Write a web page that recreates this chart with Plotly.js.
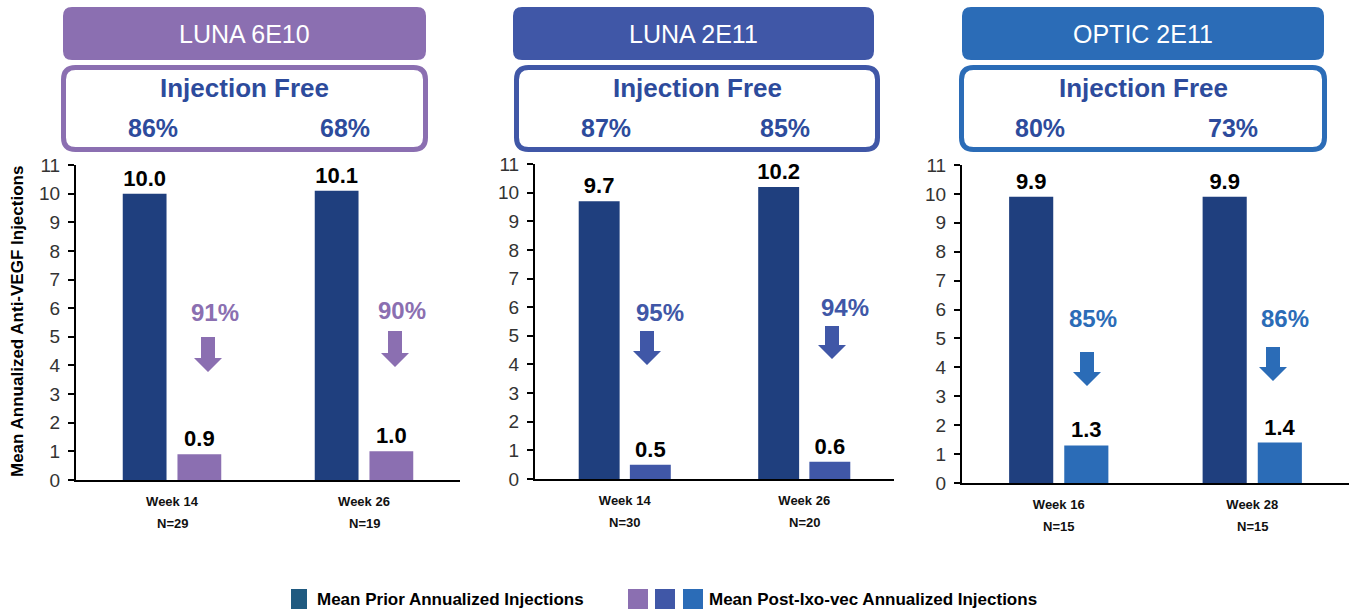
<!DOCTYPE html>
<html>
<head>
<meta charset="utf-8">
<script src="https://cdn.plot.ly/plotly-3.0.1.min.js"></script>
<style>html,body{margin:0;padding:0;background:#fff;}#chart{width:1352px;height:611px;}</style>
</head>
<body>
<div id="chart"></div>
<script>
// ---------------- DATA ----------------
const panelTitles = ['LUNA 6E10', 'LUNA 2E11', 'OPTIC 2E11'];
const weeks1 = ['Week 14', 'Week 26'];
const weeks2 = ['Week 14', 'Week 26'];
const weeks3 = ['Week 16', 'Week 28'];
const prior1 = [10.0, 10.1];
const post1 = [0.9, 1.0];
const prior2 = [9.7, 10.2];
const post2 = [0.5, 0.6];
const prior3 = [9.9, 9.9];
const post3 = [1.3, 1.4];
const nLabels1 = ['N=29', 'N=19'];
const nLabels2 = ['N=30', 'N=20'];
const nLabels3 = ['N=15', 'N=15'];
const injFree1 = ['86%', '68%'];
const injFree2 = ['87%', '85%'];
const injFree3 = ['80%', '73%'];
const reduction1 = ['91%', '90%'];
const reduction2 = ['95%', '94%'];
const reduction3 = ['85%', '86%'];
const yTickVals = [0,1,2,3,4,5,6,7,8,9,10,11];
const yAxisTitle = 'Mean Annualized Anti-VEGF Injections';
const legendPrior = 'Mean Prior Annualized Injections';
const legendPost = 'Mean Post-Ixo-vec Annualized Injections';

// ---------------- STYLE / LAYOUT CONFIG ----------------
const W = 1352, H = 611;
const FONT = 'Liberation Sans, Arial, sans-serif';
const priorColor = '#1f3f7e';
const postColors = ['#8b6fb1', '#4057a7', '#2b6cb7'];
const legendPriorColor = '#1f5a80';
const injFreeColor = '#2d4b9c';

const weeks = [weeks1, weeks2, weeks3];
const priors = [prior1, prior2, prior3];
const posts = [post1, post2, post3];
const nLabels = [nLabels1, nLabels2, nLabels3];
const injFree = [injFree1, injFree2, injFree3];
const reductions = [reduction1, reduction2, reduction3];

// panel geometry in pixels
const panels = [
  {x0: 76, x1: 460, yb: 480, yt: 165, hdr: [63, 426], box: [63.5, 425.5], arrows: [[208,337,372],[395,331,367]], redTxt: [[215,312],[402,310]]},
  {x0: 535, x1: 894, yb: 479, yt: 164, hdr: [513, 874], box: [516.5, 877.5], arrows: [[647,331,365],[832,326,359]], redTxt: [[660,312],[845,307]]},
  {x0: 962, x1: 1349, yb: 483, yt: 165, hdr: [962, 1324], box: [961.5, 1324.5], arrows: [[1087,352,386],[1273,347,381]], redTxt: [[1093,318],[1285,318]]}
];

const px = x => x / W;
const py = y => 1 - y / H;
const P = (x, y) => x + ',' + (-y);

function roundRect(x0, y0, x1, y1, r) {
  return 'M' + P(x0 + r, y0) + ' L' + P(x1 - r, y0) + ' Q' + P(x1, y0) + ' ' + P(x1, y0 + r) +
    ' L' + P(x1, y1 - r) + ' Q' + P(x1, y1) + ' ' + P(x1 - r, y1) +
    ' L' + P(x0 + r, y1) + ' Q' + P(x0, y1) + ' ' + P(x0, y1 - r) +
    ' L' + P(x0, y0 + r) + ' Q' + P(x0, y0) + ' ' + P(x0 + r, y0) + ' Z';
}
function arrowPath(cx, top, tip) {
  const sw = 7, hw = 14, hh = 14;
  return 'M' + P(cx - sw, top) + ' L' + P(cx + sw, top) + ' L' + P(cx + sw, tip - hh) +
    ' L' + P(cx + hw, tip - hh) + ' L' + P(cx, tip) + ' L' + P(cx - hw, tip - hh) +
    ' L' + P(cx - sw, tip - hh) + ' Z';
}
function pxShape(path, fill, lineColor, lineWidth) {
  return {type: 'path', xref: 'paper', yref: 'paper', xsizemode: 'pixel', ysizemode: 'pixel',
    xanchor: 0, yanchor: 1, path: path, fillcolor: fill,
    line: {color: lineColor || 'rgba(0,0,0,0)', width: lineWidth || 0}, layer: 'above'};
}

const traces = [];
const layout = {
  width: W, height: H,
  margin: {l: 0, r: 0, t: 0, b: 0, pad: 0},
  paper_bgcolor: '#ffffff', plot_bgcolor: 'rgba(0,0,0,0)',
  barmode: 'group', bargap: 0.43, bargroupgap: 0.2,
  showlegend: false,
  font: {family: FONT, color: '#000'},
  shapes: [], annotations: []
};

panels.forEach((p, i) => {
  const ax = i === 0 ? '' : String(i + 1);
  const xa = 'x' + ax, ya = 'y' + ax;
  traces.push({
    type: 'bar', x: weeks[i], y: priors[i], xaxis: xa, yaxis: ya,
    marker: {color: priorColor}, texttemplate: '%{y:.1f}', textposition: 'outside',
    textfont: {family: FONT, size: 22, color: '#000', weight: 'bold'},
    constraintext: 'none', cliponaxis: false, hoverinfo: 'skip', offsetgroup: 'a'
  });
  traces.push({
    type: 'bar', x: weeks[i], y: posts[i], xaxis: xa, yaxis: ya,
    marker: {color: postColors[i]}, texttemplate: '%{y:.1f}', textposition: 'outside',
    textfont: {family: FONT, size: 22, color: '#000', weight: 'bold'},
    constraintext: 'none', cliponaxis: false, hoverinfo: 'skip', offsetgroup: 'b'
  });
  layout['xaxis' + ax] = {
    domain: [px(p.x0), px(p.x1)], anchor: ya, type: 'category', range: [-0.5, 1.5],
    showline: true, linecolor: '#000', linewidth: 2, ticks: '', showgrid: false, zeroline: false,
    tickfont: {family: FONT, size: 13, color: '#111', weight: 'bold'}, ticklabelstandoff: 8,
    fixedrange: true
  };
  layout['yaxis' + ax] = {
    domain: [py(p.yb), py(p.yt)], anchor: xa, range: [0, 11], tickvals: yTickVals,
    showline: true, linecolor: '#000', linewidth: 2, ticks: 'outside', ticklen: 6, tickwidth: 2,
    tickcolor: '#000', showgrid: false, zeroline: false,
    tickfont: {family: FONT, size: 19, color: '#333'}, ticklabelstandoff: 4, fixedrange: true
  };
  // header boxes
  layout.shapes.push(pxShape(roundRect(p.hdr[0], 7, p.hdr[1], 60, 9), postColors[i]));
  layout.shapes.push(pxShape(roundRect(p.box[0], 67.5, p.box[1], 149.5, 12), 'rgba(0,0,0,0)', postColors[i], 5));
  layout.annotations.push({xref: 'paper', yref: 'paper', x: px((p.hdr[0] + p.hdr[1]) / 2), y: py(34),
    text: panelTitles[i], showarrow: false, xanchor: 'center', yanchor: 'middle',
    font: {family: FONT, size: 25, color: '#ffffff'}});
  layout.annotations.push({xref: 'paper', yref: 'paper', x: px((p.box[0] + p.box[1]) / 2), y: py(88),
    text: 'Injection Free', showarrow: false, xanchor: 'center', yanchor: 'middle',
    font: {family: FONT, size: 26, color: injFreeColor, weight: 'bold'}});
  weeks[i].forEach((w, j) => {
    layout.annotations.push({xref: xa, yref: 'paper', x: w, y: py(128), xshift: -19,
      text: injFree[i][j], showarrow: false, xanchor: 'center', yanchor: 'middle',
      font: {family: FONT, size: 25, color: injFreeColor, weight: 'bold'}});
    layout.annotations.push({xref: xa, yref: 'paper', x: w, y: py(p.yb + 43),
      text: nLabels[i][j], showarrow: false, xanchor: 'center', yanchor: 'middle',
      font: {family: FONT, size: 13, color: '#111', weight: 'bold'}});
    const a = p.arrows[j];
    layout.shapes.push(pxShape(arrowPath(a[0], a[1], a[2]), postColors[i]));
    const t = p.redTxt[j];
    layout.annotations.push({xref: 'paper', yref: 'paper', x: px(t[0]), y: py(t[1]),
      text: reductions[i][j], showarrow: false, xanchor: 'center', yanchor: 'middle',
      font: {family: FONT, size: 24, color: postColors[i], weight: 'bold'}});
  });
});

// y-axis title
layout.annotations.push({xref: 'paper', yref: 'paper', x: px(17), y: py(322), textangle: -90,
  text: yAxisTitle, showarrow: false, xanchor: 'center', yanchor: 'middle',
  font: {family: FONT, size: 17, color: '#000', weight: 'bold'}});

// legend
layout.shapes.push(pxShape(roundRect(291, 589, 307, 609, 0.1), legendPriorColor));
[628, 655, 683].forEach((x, k) => {
  layout.shapes.push(pxShape(roundRect(x, 589, x + 20, 609, 0.1), postColors[k]));
});
layout.annotations.push({xref: 'paper', yref: 'paper', x: px(315), y: py(599),
  text: legendPrior, showarrow: false, xanchor: 'left', yanchor: 'middle',
  font: {family: FONT, size: 17, color: '#000', weight: 'bold'}});
layout.annotations.push({xref: 'paper', yref: 'paper', x: px(707), y: py(599),
  text: legendPost, showarrow: false, xanchor: 'left', yanchor: 'middle',
  font: {family: FONT, size: 17, color: '#000', weight: 'bold'}});

Plotly.newPlot('chart', traces, layout, {staticPlot: true, displayModeBar: false});
</script>
</body>
</html>
